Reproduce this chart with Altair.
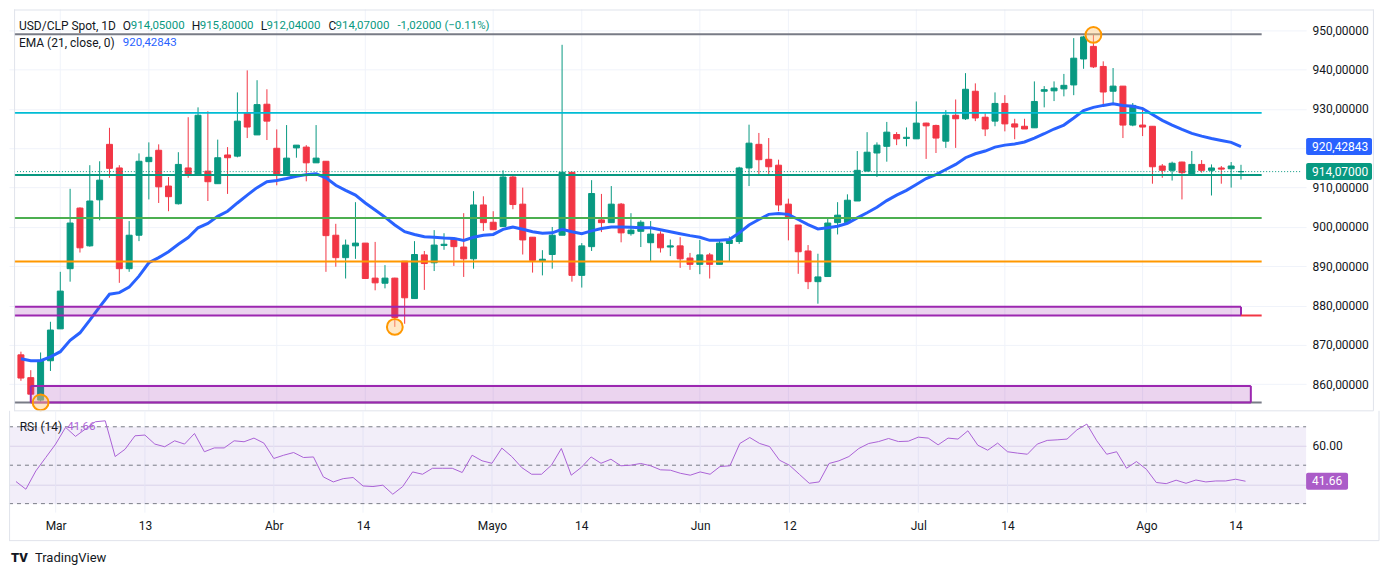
import json
import altair as alt
import pandas as pd

# ---------------- data ----------------
opens = [867.5, 861.7, 856.0, 866.0, 874.1, 889.4, 904.8, 895.2, 906.9, 921.0,
         915.0, 889.4, 897.9, 916.6, 919.5, 910.4, 905.9, 915.0, 913.2, 914.2,
         911.0, 918.3, 918.0, 929.0, 923.4, 931.2, 920.0, 913.2, 920.1, 920.3,
         916.3, 916.7, 897.9, 892.2, 895.2, 895.9, 887.0, 885.7, 887.0, 891.3,
         881.8, 892.9, 890.9, 895.3, 897.1, 894.9, 891.9, 905.6, 901.2, 900.1,
         912.7, 905.8, 897.4, 891.4, 893.0, 897.9, 913.9, 887.7, 895.0, 901.8,
         901.1, 905.8, 898.3, 898.9, 896.0, 898.2, 894.9, 895.2, 892.1, 890.5,
         892.9, 890.5, 895.8, 896.3, 915.0, 921.0, 917.2, 915.7, 905.8, 900.5,
         893.9, 886.1, 887.4, 901.1, 901.1, 906.6, 914.2, 918.8, 920.5, 923.5,
         922.5, 922.4, 926.4, 925.8, 921.8, 928.4, 927.5, 934.5, 927.9, 926.9,
         931.4, 926.2, 925.6, 925.2, 934.5, 934.6, 935.1, 936.1, 942.7, 945.9,
         940.8, 934.5, 935.8, 925.9, 925.9, 925.6, 915.5, 914.4, 916.5, 913.4,
         915.9, 914.4, 915.0, 914.8, 914.05]
highs = [868.3, 863.6, 868.1, 875.9, 888.6, 909.7, 905.0, 915.7, 916.7, 925.2,
         915.7, 901.5, 918.7, 921.5, 921.0, 912.7, 919.0, 927.9, 930.4, 929.4,
         922.2, 920.3, 934.2, 939.8, 937.3, 935.0, 924.8, 925.9, 920.8, 920.8,
         925.9, 916.7, 900.8, 896.8, 906.3, 895.9, 896.2, 890.3, 887.1, 891.3,
         896.4, 893.9, 899.2, 898.4, 897.3, 903.5, 909.1, 907.8, 904.0, 914.4,
         913.3, 910.0, 897.4, 894.1, 900.0, 946.3, 913.9, 895.9, 911.9, 908.4,
         910.4, 906.1, 903.5, 901.7, 901.5, 898.9, 896.8, 897.4, 893.4, 896.7,
         893.4, 896.8, 897.6, 915.3, 926.0, 923.9, 922.6, 917.1, 907.2, 900.5,
         895.4, 893.2, 902.1, 906.3, 908.3, 919.3, 924.1, 921.5, 926.7, 924.1,
         925.3, 931.9, 926.5, 926.0, 929.7, 932.4, 939.1, 936.5, 928.9, 934.2,
         933.5, 927.5, 927.5, 937.0, 935.8, 937.0, 938.9, 948.0, 948.6, 948.9,
         942.1, 940.4, 935.8, 931.5, 930.4, 925.6, 916.0, 916.6, 916.6, 919.3,
         917.0, 915.9, 915.5, 916.5, 915.80]
lows = [860.9, 857.3, 855.4, 863.4, 874.1, 886.1, 893.5, 895.0, 901.7, 912.5,
        885.8, 888.6, 896.4, 907.0, 906.1, 904.0, 905.7, 912.5, 913.2, 906.6,
        911.0, 908.4, 917.7, 922.6, 923.4, 922.1, 910.6, 913.2, 917.6, 911.6,
        916.3, 888.6, 889.9, 886.9, 891.9, 886.9, 883.9, 884.4, 874.6, 875.4,
        881.8, 884.0, 888.8, 894.2, 890.1, 887.3, 889.4, 899.0, 899.3, 900.1,
        904.5, 893.0, 888.4, 887.7, 889.4, 897.9, 886.1, 884.6, 893.9, 898.7,
        901.1, 896.1, 897.8, 894.9, 891.1, 893.5, 892.6, 889.6, 889.1, 888.0,
        886.9, 890.5, 891.3, 895.7, 910.4, 913.3, 913.3, 904.0, 896.6, 888.1,
        884.2, 880.5, 887.4, 898.1, 900.8, 906.6, 914.2, 912.7, 916.6, 920.8,
        920.5, 922.4, 917.3, 918.8, 920.1, 920.1, 927.2, 926.9, 923.1, 925.6,
        924.3, 922.3, 924.9, 925.2, 930.4, 932.0, 933.2, 933.5, 940.2, 940.4,
        931.1, 931.1, 922.6, 925.6, 923.1, 911.0, 912.5, 911.8, 907.0, 913.4,
        913.8, 908.0, 911.0, 910.0, 912.04]
closes = [861.6, 857.5, 866.1, 873.8, 883.7, 901.0, 894.7, 906.6, 911.9, 914.9,
          889.4, 897.9, 916.7, 917.7, 910.2, 907.7, 915.9, 913.2, 928.4, 911.5,
          917.6, 917.6, 926.9, 925.4, 931.1, 926.9, 913.2, 917.5, 920.8, 916.3,
          917.5, 897.8, 892.2, 895.4, 895.9, 886.9, 885.8, 887.0, 877.0, 882.0,
          893.0, 890.7, 895.4, 895.6, 895.0, 891.9, 905.6, 901.1, 899.3, 912.7,
          905.7, 896.7, 891.5, 891.8, 897.9, 913.9, 887.7, 895.2, 908.5, 901.1,
          905.8, 898.5, 899.2, 901.2, 898.2, 894.7, 895.2, 891.9, 890.5, 892.9,
          890.5, 895.9, 896.7, 915.0, 921.3, 917.1, 915.3, 905.6, 902.3, 893.7,
          886.1, 887.3, 901.0, 903.0, 906.8, 914.4, 919.0, 920.8, 924.1, 922.4,
          922.8, 926.4, 925.7, 922.6, 928.4, 927.5, 935.0, 927.7, 924.9, 931.4,
          926.2, 925.4, 924.9, 931.9, 934.9, 935.3, 936.0, 942.9, 948.3, 940.7,
          934.3, 935.8, 925.9, 930.9, 925.4, 915.3, 914.4, 916.2, 913.8, 915.9,
          914.4, 915.0, 914.7, 915.5, 914.07]
ema21 = [866.5, 866.0, 866.0, 867.0, 868.3, 871.2, 873.1, 876.3, 879.7, 882.9,
         883.3, 884.7, 887.5, 890.9, 892.2, 893.7, 895.6, 897.3, 899.8, 900.9,
         902.7, 904.0, 906.1, 908.1, 910.0, 911.5, 911.8, 912.3, 912.9, 913.3,
         913.5, 912.5, 910.6, 909.3, 908.1, 906.1, 904.3, 902.5, 900.5, 898.8,
         898.1, 897.5, 897.4, 897.2, 897.1, 896.6, 897.4, 897.9, 898.1, 899.4,
         900.0, 899.4, 898.8, 898.4, 898.5, 899.4, 898.8, 898.3, 899.0, 899.6,
         900.0, 900.0, 899.9, 899.8, 899.8, 899.3, 898.8, 898.3, 897.8, 897.4,
         896.6, 896.6, 896.8, 898.5, 900.5, 901.9, 903.2, 903.4, 903.2, 901.9,
         900.6, 899.5, 899.8, 900.2, 900.9, 902.3, 903.6, 905.0, 906.7, 908.1,
         909.3, 910.8, 912.3, 913.3, 914.6, 915.9, 917.6, 918.6, 919.3, 920.3,
         920.8, 921.1, 921.6, 922.6, 923.7, 924.9, 925.9, 927.7, 929.6, 930.4,
         930.9, 931.3, 930.9, 930.7, 930.1, 928.6, 927.1, 925.9, 924.8, 923.8,
         923.1, 922.5, 922.0, 921.5, 920.43]
rsi14 = [41.5, 37.5, 47.0, 54.0, 61.0, 69.7, 65.0, 68.8, 72.6, 73.1,
         54.5, 58.3, 65.3, 65.7, 61.0, 59.6, 62.7, 61.0, 66.5, 57.0,
         59.0, 59.0, 62.7, 62.2, 64.1, 61.5, 53.5, 55.2, 56.6, 54.0,
         54.3, 43.9, 41.3, 43.0, 43.6, 39.2, 38.9, 39.6, 34.9, 38.9,
         46.5, 45.3, 48.4, 48.4, 48.4, 46.2, 55.2, 52.3, 51.0, 58.9,
         54.5, 48.8, 45.3, 45.3, 50.0, 58.7, 44.8, 48.8, 54.3, 51.0,
         53.1, 49.7, 50.0, 50.9, 49.7, 47.6, 47.4, 45.8, 44.8, 46.5,
         45.3, 49.3, 49.7, 61.3, 64.4, 61.3, 59.7, 52.6, 50.0, 45.3,
         40.6, 41.3, 50.9, 52.3, 54.5, 58.7, 61.3, 62.3, 63.9, 62.3,
         62.5, 64.6, 64.1, 60.6, 64.1, 63.6, 67.9, 60.4, 57.8, 61.5,
         57.0, 56.3, 55.7, 61.0, 62.9, 63.2, 63.6, 68.4, 71.4, 62.7,
         55.7, 57.0, 48.4, 51.9, 47.9, 41.0, 40.4, 42.2, 40.6, 42.3,
         41.3, 41.8, 41.8, 42.7, 41.66]

tick_idx = [4, 13, 26, 35, 48, 57, 69, 78, 91, 100, 114, 123]
tick_labels = ["Mar", "13", "Abr", "14", "Mayo", "14", "Jun", "12", "Jul", "14", "Ago", "14"]
price_ticks = [860, 870, 880, 890, 900, 910, 920, 930, 940, 950]

resist_top = 949.0
level_cyan = 929.0
level_teal = 913.2
level_green = 902.3
level_orange = 891.2
support_bottom = 855.4
zone_upper = [877.5, 879.7]
zone_lower = [855.4, 859.6]
marked_idx = [2, 38, 109]
marked_price = [855.4, 874.6, 948.8]
last_price = 914.07
last_ema = 920.43
last_rsi = 41.66

n = len(closes)
assert len(opens) == n and len(highs) == n and len(lows) == n and len(ema21) == n and len(rsi14) == n

# ---------------- layout ----------------
X0, X1 = -0.705, 130.11      # plot x domain (candle index)
XF = 137.46                  # outer frame right
XE = 126.1                   # end of drawn lines
P0, P1 = 853.27, 955.3       # price pane domain
R0, R1 = 25.3, 78.3          # RSI pane domain
RB = 10.75                   # frame bottom (below RSI pane)
W, HM, HR = 1299, 402, 102
GREEN, RED = "#089981", "#f23645"
FONT = "Roboto"
DARK = "#131722"
FRAME = "#e0e3eb"
GRID = "#f0f3fa"

candles = pd.DataFrame({"i": list(range(n)), "o": opens, "h": highs, "l": lows,
                        "c": closes, "e": ema21, "r": rsi14})
candles["dir"] = ["up" if c >= o else "down" for o, c in zip(opens, closes)]

xs = alt.Scale(domain=[X0, X1], nice=False, zero=False)
ysm = alt.Scale(domain=[P0, P1], nice=False, zero=False)
ysr = alt.Scale(domain=[R0, R1], nice=False, zero=False)
cs = alt.Scale(domain=["up", "down"], range=[GREEN, RED])

price_axis = alt.Axis(orient="right", values=price_ticks,
                      labelExpr="replace(format(datum.value, '.5f'), '.', ',')",
                      ticks=False, domain=False, grid=True, gridColor=GRID,
                      labelPadding=6, labelFont=FONT, labelFontSize=12,
                      labelColor=DARK, title=None)
rsi_axis = alt.Axis(orient="right", values=[40, 60],
                    labelExpr="datum.value == 60 ? '60.00' : ''",
                    ticks=False, domain=False, grid=True, gridColor="#e6e1ef",
                    labelPadding=6, labelFont=FONT, labelFontSize=12,
                    labelColor=DARK, title=None)
lab_expr = json.dumps(tick_labels) + "[indexof(" + json.dumps(tick_idx) + ", datum.value)]"
time_axis = alt.Axis(values=tick_idx, labelExpr=lab_expr, ticks=False, domain=False,
                     grid=False, labelPadding=8, labelFont=FONT, labelFontSize=12,
                     labelColor=DARK, title=None)


def mx(f):
    return alt.X(f, type="quantitative", scale=xs, axis=None)


def my(f):
    return alt.Y(f, type="quantitative", scale=ysm, axis=price_axis)


def rx(f):
    return alt.X(f, type="quantitative", scale=xs, axis=time_axis)


def ry(f):
    return alt.Y(f, type="quantitative", scale=ysr, axis=rsi_axis)


one = pd.DataFrame({"k": [0]})


def hrule(xf, yf, x_a, x_b, yv, color, width, dash=None):
    d = pd.DataFrame({"a": [x_a], "b": [x_b], "v": [yv]})
    kw = dict(color=color, strokeWidth=width)
    if dash:
        kw["strokeDash"] = dash
    return alt.Chart(d).mark_rule(**kw).encode(x=xf("a"), x2="b", y=yf("v"))


def vrule(xf, yf, xv, y_a, y_b, color, width):
    d = pd.DataFrame({"v": [xv], "a": [y_a], "b": [y_b]})
    return alt.Chart(d).mark_rule(color=color, strokeWidth=width).encode(x=xf("v"), y=yf("a"), y2="b")


def txt(s, px, py, color, size=12, weight="normal"):
    return alt.Chart(one).mark_text(text=s, align="left", baseline="middle", font=FONT,
                                    fontSize=size, color=color, fontWeight=weight).encode(
        x=alt.value(px), y=alt.value(py))


# ---------------- price pane ----------------
k = len(tick_idx)
vg_m = alt.Chart(pd.DataFrame({"i": tick_idx, "a": [P0] * k, "b": [P1] * k})).mark_rule(
    color=GRID, strokeWidth=1).encode(x=mx("i"), y=my("a"), y2="b")

wicks = alt.Chart(candles).mark_rule(strokeWidth=1).encode(
    x=mx("i"), y=my("l"), y2="h", color=alt.Color("dir:N", scale=cs, legend=None))
bodies = alt.Chart(candles).mark_bar(size=6, strokeWidth=1).encode(
    x=mx("i"), y=my("o"), y2="c",
    color=alt.Color("dir:N", scale=cs, legend=None),
    stroke=alt.Stroke("dir:N", scale=cs, legend=None))
ema_line = alt.Chart(candles).mark_line(color="#2962ff", strokeWidth=3).encode(
    x=mx("i"), y=my("e"))

layers_m = [vg_m, wicks, bodies, ema_line,
            hrule(mx, my, X0, X1, last_price, GREEN, 1, [1, 2]),
            hrule(mx, my, X0, XE, resist_top, "#787b86", 2),
            hrule(mx, my, X0, XE, level_cyan, "#00bcd4", 2),
            hrule(mx, my, X0, XE, level_teal, "#089981", 2),
            hrule(mx, my, X0, XE, level_green, "#4caf50", 2),
            hrule(mx, my, X0, XE, level_orange, "#ff9800", 2),
            hrule(mx, my, X0, XE, support_bottom, "#787b86", 2)]

# zones
zu = pd.DataFrame({"a": [X0], "b": [124.0], "lo": [zone_upper[0]], "hi": [zone_upper[1]]})
zl = pd.DataFrame({"a": [1.0], "b": [125.0], "lo": [zone_lower[0]], "hi": [zone_lower[1]]})
for z in (zu, zl):
    layers_m.append(alt.Chart(z).mark_rect(color="#9c27b0", opacity=0.2).encode(
        x=mx("a"), x2="b", y=my("lo"), y2="hi"))
layers_m += [
    hrule(mx, my, X0, 124.0, zone_upper[1], "#9c27b0", 2),
    hrule(mx, my, X0, 124.0, zone_upper[0], "#9c27b0", 2),
    vrule(mx, my, 124.0, zone_upper[0], zone_upper[1], "#9c27b0", 2),
    hrule(mx, my, 124.0, XE, zone_upper[0], RED, 2),
    hrule(mx, my, 1.0, 125.0, zone_lower[1], "#9c27b0", 2),
    hrule(mx, my, 1.0, 125.0, zone_lower[0], "#9c27b0", 2),
    vrule(mx, my, 1.0, zone_lower[0], zone_lower[1], "#9c27b0", 2),
    vrule(mx, my, 125.0, zone_lower[0], zone_lower[1], "#9c27b0", 2),
]
circ = pd.DataFrame({"i": marked_idx, "p": marked_price})
layers_m.append(alt.Chart(circ).mark_point(shape="circle", size=250, filled=True,
                                           fill="#ffcc80", fillOpacity=0.45,
                                           stroke="#ff9800", strokeWidth=2, opacity=1).encode(
    x=mx("i"), y=my("p")))

# frame
layers_m += [
    hrule(mx, my, X0, XF, P1 - 0.15, FRAME, 1),
    hrule(mx, my, X0, XF, P0, FRAME, 1),
    vrule(mx, my, X0 + 0.06, P0, P1, FRAME, 1),
    vrule(mx, my, XF, P0, P1, FRAME, 1),
]

# legend texts
NUM = 11.5
layers_m += [
    txt("USD/CLP Spot, 1D", 10, 17, DARK),
    txt("O", 114, 17, DARK), txt("914,05000", 122, 17, GREEN, NUM),
    txt("H", 183, 17, DARK), txt("915,80000", 191, 17, GREEN, NUM),
    txt("L", 252, 17, DARK), txt("912,04000", 258, 17, GREEN, NUM),
    txt("C", 320, 17, DARK), txt("914,07000", 327, 17, GREEN, NUM),
    txt("-1,02000 (\u22120.11%)", 389, 17, GREEN, NUM),
    txt("EMA (21, close, 0)", 10, 33.5, DARK),
    txt("920,42843", 114, 33.5, "#2962ff", NUM),
]


def price_tag(value, label, color, half):
    d = pd.DataFrame({"p": [value], "lo": [value - half], "hi": [value + half]})
    box = alt.Chart(d).mark_rect(color=color, cornerRadius=2).encode(
        x=alt.value(W), x2=alt.value(W + 66), y=my("lo"), y2="hi")
    t = alt.Chart(d).mark_text(text=label, align="left", baseline="middle", font=FONT,
                               fontSize=12, color="white").encode(
        x=alt.value(W + 6), y=my("p"))
    return [box, t]


layers_m += price_tag(last_ema, "920,42843", "#2962ff", 2.16)
layers_m += price_tag(last_price, "914,07000", GREEN, 2.16)

main = alt.layer(*layers_m).properties(width=W, height=HM)

# ---------------- RSI pane ----------------
vg_r = alt.Chart(pd.DataFrame({"i": tick_idx, "a": [R0] * k, "b": [R1] * k})).mark_rule(
    color=GRID, strokeWidth=1).encode(x=rx("i"), y=ry("a"), y2="b")
band = alt.Chart(pd.DataFrame({"a": [X0], "b": [X1], "lo": [30], "hi": [70]})).mark_rect(
    color="#7e57c2", opacity=0.1).encode(x=rx("a"), x2="b", y=ry("lo"), y2="hi")
rsi_line = alt.Chart(candles).mark_line(color="#ab62d6", strokeWidth=1).encode(
    x=rx("i"), y=ry("r"))

rd = pd.DataFrame({"p": [last_rsi], "lo": [last_rsi - 4.4], "hi": [last_rsi + 4.4]})
rsi_box = alt.Chart(rd).mark_rect(color="#ab5cc8", cornerRadius=2).encode(
    x=alt.value(W), x2=alt.value(W + 42), y=ry("lo"), y2="hi")
rsi_box_t = alt.Chart(rd).mark_text(text="41.66", align="left", baseline="middle", font=FONT,
                                    fontSize=12, color="white").encode(
    x=alt.value(W + 6), y=ry("p"))

layers_r = [vg_r, band,
            hrule(rx, ry, X0, X1, 70, "#787b86", 1, [4, 4]),
            hrule(rx, ry, X0, X1, 50, "#787b86", 1, [4, 4]),
            hrule(rx, ry, X0, X1, 30, "#787b86", 1, [4, 4]),
            rsi_line,
            txt("RSI (14)", 10.7, 16, DARK),
            txt("41,66", 58.4, 16, "#ab62d6", NUM),
            rsi_box, rsi_box_t,
            vrule(rx, ry, X0 + 0.06, RB, R1, FRAME, 1),
            vrule(rx, ry, XF, RB, R1, FRAME, 1),
            hrule(rx, ry, X0, XF, RB, FRAME, 1),
            txt("TV", 2, 147, DARK, 13, 900),
            txt("TradingView", 26, 147, DARK, 13)]

rsi = alt.layer(*layers_r).properties(width=W, height=HR)

chart = alt.vconcat(main, rsi, spacing=0, bounds="flush").properties(
    padding=0, background="white").configure_view(stroke=None)

chart.save("out.html", embed_options={"renderer": "svg", "actions": False})
